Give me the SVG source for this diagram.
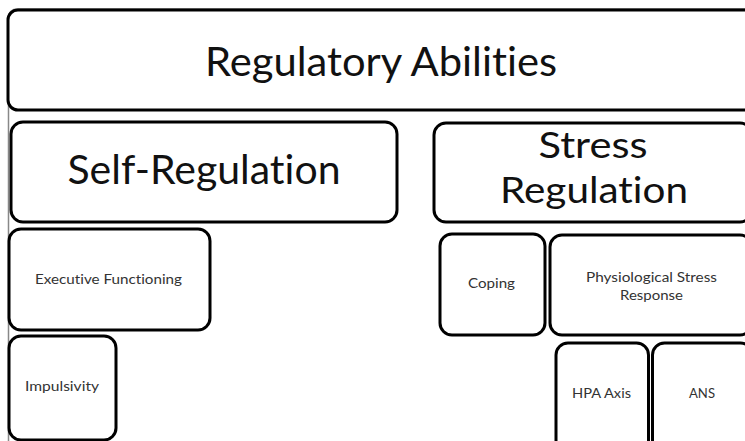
<svg xmlns="http://www.w3.org/2000/svg" width="745" height="441" viewBox="0 0 745 441">
<style>
text{font-family:Lato,"Open Sans","Liberation Sans",sans-serif;text-anchor:middle;font-variant-ligatures:none;font-feature-settings:"liga" 0,"clig" 0}
.box{fill:#fff;stroke:#000;stroke-width:3}
.big{font-size:40px;fill:#111}
.mid{font-size:37px;fill:#111}
.sm{font-size:12.5px;fill:#333}
.frame{stroke:#888;stroke-width:1.5;fill:none}
</style>
<rect width="745" height="441" fill="#fff"/>
<path class="frame" d="M8.5 441 V18 Q8.5 9 18 9 H745"/>
<g id="connectors"/>
<g id="regulatory-abilities">
<rect class="box" x="8" y="10" width="746" height="100" rx="10"/>
<text class="big" x="381" y="76" textLength="352" lengthAdjust="spacingAndGlyphs">Regulatory Abilities</text>
</g>
<g id="self-regulation">
<rect class="box" x="11" y="122" width="386" height="100" rx="12"/>
<text class="big" x="204" y="184" textLength="273" lengthAdjust="spacingAndGlyphs">Self-Regulation</text>
</g>
<g id="stress-regulation">
<rect class="box" x="434" y="123" width="318" height="99" rx="12"/>
<text class="mid" x="593" y="158" textLength="109" lengthAdjust="spacingAndGlyphs">Stress</text>
<text class="mid" x="594" y="203" textLength="188" lengthAdjust="spacingAndGlyphs">Regulation</text>
</g>
<g id="executive-functioning">
<rect class="box" x="9" y="229" width="201" height="101" rx="12"/>
<text class="sm" x="108.5" y="284" textLength="147" lengthAdjust="spacingAndGlyphs">Executive Functioning</text>
</g>
<g id="impulsivity">
<rect class="box" x="9" y="336" width="107" height="104" rx="12"/>
<text class="sm" x="62" y="391" textLength="74" lengthAdjust="spacingAndGlyphs">Impulsivity</text>
</g>
<g id="coping">
<rect class="box" x="440" y="234" width="105" height="101" rx="12"/>
<text class="sm" x="491.5" y="288" textLength="47" lengthAdjust="spacingAndGlyphs">Coping</text>
</g>
<g id="physiological-stress-response">
<rect class="box" x="550" y="235" width="202" height="100" rx="12"/>
<text class="sm" x="651.5" y="282" textLength="131" lengthAdjust="spacingAndGlyphs">Physiological Stress</text>
<text class="sm" x="651.5" y="300" textLength="63" lengthAdjust="spacingAndGlyphs">Response</text>
</g>
<g id="hpa-axis">
<rect class="box" x="556" y="343" width="92.5" height="110" rx="12"/>
<text class="sm" x="601.5" y="398" textLength="59" lengthAdjust="spacingAndGlyphs">HPA Axis</text>
</g>
<g id="ans">
<rect class="box" x="652.5" y="343" width="100" height="110" rx="12"/>
<text class="sm" x="702" y="398" textLength="26" lengthAdjust="spacingAndGlyphs">ANS</text>
</g>
</svg>
